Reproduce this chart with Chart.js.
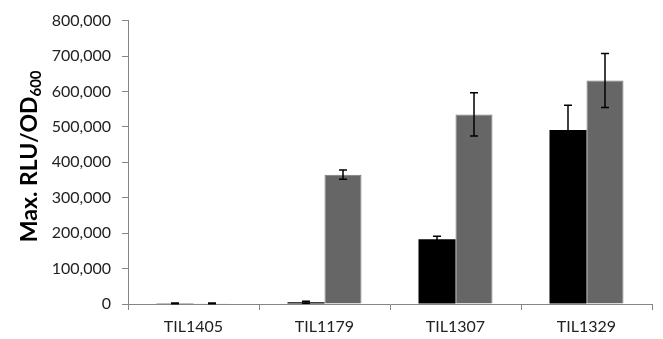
<!DOCTYPE html>
<html>
<head>
<meta charset="utf-8">
<script src="https://cdn.jsdelivr.net/npm/chart.js@4/dist/chart.umd.min.js"></script>
<style>
  body { margin: 0; background: #fff; }
  #wrap { width: 663px; height: 339px; }
</style>
</head>
<body>
<div id="wrap"><canvas id="myChart" width="663" height="339"></canvas></div>
<script>
var strains = ["TIL1405", "TIL1179", "TIL1307", "TIL1329"];
var blackVals = [2000, 5000, 183000, 491000];
var blackErr = [1000, 3000, 8000, 70000];
var greyVals = [2000, 365000, 535000, 631000];
var greyErr = [1000, 13000, 61000, 76000];

// draw the +/- error bars from each dataset's err array
var errorBars = {
  id: "errorBars",
  afterDatasetsDraw: function (chart) {
    var ctx = chart.ctx;
    var y = chart.scales.y;
    ctx.save();
    ctx.strokeStyle = "#000";
    ctx.lineWidth = 1.5;
    chart.data.datasets.forEach(function (ds, i) {
      var meta = chart.getDatasetMeta(i);
      meta.data.forEach(function (bar, j) {
        var v = ds.data[j];
        var e = ds.err[j];
        var top = y.getPixelForValue(v + e);
        var bot = y.getPixelForValue(v - e);
        var x = bar.x;
        ctx.beginPath();
        ctx.moveTo(x, top);
        ctx.lineTo(x, bot);
        ctx.moveTo(x - 4, top);
        ctx.lineTo(x + 4, top);
        ctx.moveTo(x - 4, bot);
        ctx.lineTo(x + 4, bot);
        ctx.stroke();
      });
    });
    ctx.restore();
  },
};

// y title with subscript
var yTitle = {
  id: "yTitle",
  afterDraw: function (chart) {
    var ctx = chart.ctx;
    var area = chart.chartArea;
    var main = "Max. RLU/OD";
    var sub = "600";
    ctx.save();
    ctx.translate(30, (area.top + area.bottom) / 2 - 6);
    ctx.rotate(-Math.PI / 2);
    ctx.fillStyle = "#000";
    ctx.textBaseline = "middle";
    ctx.font = "bold 23px Lato";
    var w1 = ctx.measureText(main).width;
    ctx.font = "bold 15px Lato";
    var w2 = ctx.measureText(sub).width;
    var x0 = -(w1 + w2) / 2;
    ctx.font = "bold 23px Lato";
    ctx.textAlign = "left";
    ctx.fillText(main, x0, 0);
    ctx.font = "bold 15px Lato";
    ctx.fillText(sub, x0 + w1, 6);
    ctx.restore();
  },
};

new Chart(document.getElementById("myChart"), {
  type: "bar",
  data: {
    labels: strains,
    datasets: [
      {
        data: blackVals,
        err: blackErr,
        backgroundColor: "#000000",
        categoryPercentage: 0.565,
        barPercentage: 1.0,
      },
      {
        data: greyVals,
        err: greyErr,
        backgroundColor: "#666666",
        borderColor: "#7a7a7a",
        borderWidth: 1,
        categoryPercentage: 0.565,
        barPercentage: 1.0,
      },
    ],
  },
  options: {
    responsive: false,
    animation: false,
    layout: { padding: { top: 14, right: 11, left: 0, bottom: 0 } },
    plugins: {
      legend: { display: false },
      tooltip: { enabled: false },
    },
    scales: {
      x: {
        grid: {
          offset: true,
          drawOnChartArea: false,
          color: "#868686",
          tickLength: 6,
        },
        border: { color: "#868686", width: 1 },
        ticks: {
          color: "#222",
          font: { family: "Lato", size: 16 },
          padding: 7,
        },
        afterFit: function (s) {
          s.height = 35;
        },
      },
      y: {
        min: 0,
        max: 800000,
        grid: {
          drawOnChartArea: false,
          color: "#868686",
          tickLength: 6,
        },
        border: { color: "#868686", width: 1 },
        ticks: {
          stepSize: 100000,
          color: "#222",
          font: { family: "Lato", size: 16 },
          padding: 11,
          callback: function (v) {
            return v.toLocaleString("en-US");
          },
        },
        afterFit: function (s) {
          s.width = 128;
        },
      },
    },
  },
  plugins: [errorBars, yTitle],
});
</script>
</body>
</html>
